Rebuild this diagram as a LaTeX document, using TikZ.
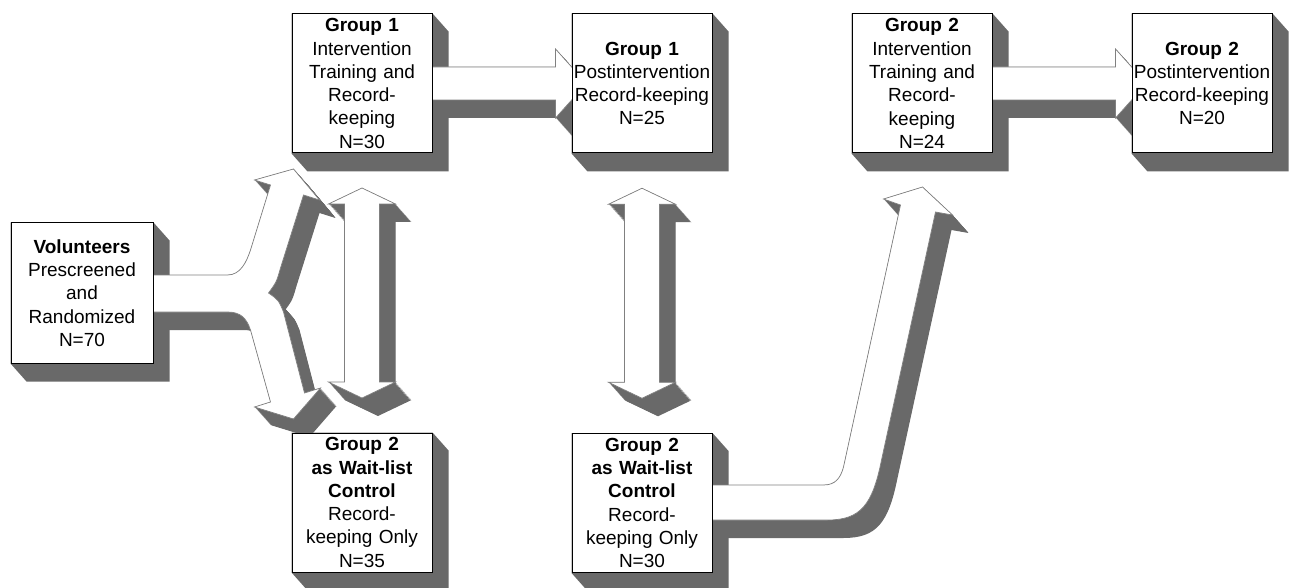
\documentclass[tikz,border=0pt]{standalone}
\usepackage{fontspec}
\setmainfont{Liberation Sans}
\usetikzlibrary{calc}
\definecolor{shadowgray}{RGB}{105,105,105}
\pgfdeclarelayer{bg}
\pgfdeclarelayer{mid}
\pgfsetlayers{bg,mid,main}
\newcommand\solidarrow[1]{%
  \foreach \t in {0,0.5,...,16}{\fill[shd,shift={(\t,1.125*\t)}] #1;}%
  \filldraw[face] #1;}
\newcommand\boxshadow[1]{%
  \fill[shd] (#1.north west) -- (#1.north east) -- ([shift={(16,18)}]#1.north east)
    -- ([shift={(16,18)}]#1.south east) -- ([shift={(16,18)}]#1.south west)
    -- (#1.south west) -- cycle;}
\begin{document}
\begin{tikzpicture}[x=1pt,y=-1pt,
  shd/.style={fill=shadowgray},
  face/.style={fill=white,draw=black!50,line width=0.7pt,line join=miter},
  box/.style={draw=black,fill=white,line width=1pt,minimum width=140pt,
    minimum height=139pt,inner sep=0pt,align=center,text width=140pt,
    font=\fontsize{19}{23.3}\selectfont}]
\useasboundingbox (0,0) rectangle (1304,588);

% boxes
\node[box,minimum width=142pt,minimum height=140pt] (vol) at (82,293)
  {\textbf{Volunteers}\\Prescreened\\and\\Randomized\\N=70};
\node[box] (g1i) at (362,83.5)
  {\textbf{Group 1}\\Intervention\\Training and\\Record-\\keeping\\N=30};
\node[box] (g1p) at (642,83.5)
  {\textbf{Group 1}\\Postintervention\\Record-keeping\\N=25};
\node[box] (g2i) at (922,83.5)
  {\textbf{Group 2}\\Intervention\\Training and\\Record-\\keeping\\N=24};
\node[box] (g2p) at (1202,83.5)
  {\textbf{Group 2}\\Postintervention\\Record-keeping\\N=20};
\node[box] (w1) at (362,502.5)
  {\textbf{Group 2}\\\textbf{as Wait-list}\\\textbf{Control}\\Record-\\keeping Only\\N=35};
\node[box] (w2) at (642,503)
  {\textbf{Group 2}\\\textbf{as Wait-list}\\\textbf{Control}\\Record-\\keeping Only\\N=30};

% box extrusions
\begin{pgfonlayer}{bg}
  \foreach \b in {vol,g1i,g1p,g2i,g2p,w1,w2}{\boxshadow{\b}}
\end{pgfonlayer}

\begin{pgfonlayer}{mid}
% horizontal arrows
\foreach \s in {g1i,g2i}{
  \begin{scope}[shift={(\s.east)}]
    \solidarrow{(-3,-16.5) -- (123,-16.5) -- (123,-34.5) -- (154,0) -- (123,34.5) -- (123,16.5) -- (-3,16.5) -- cycle}
  \end{scope}}
% split arrow from volunteers
\begin{scope}[shift={(vol.east)}]
  \solidarrow{(-3,-18) -- (74,-18) .. controls (87,-18) and (93,-31) .. (97,-43) -- (117,-108) -- (101,-113) -- (140,-124) -- (166,-93) -- (150,-98) -- (127,-25) .. controls (123,-11) .. (115,0) .. controls (125,7) .. (130,19) -- (151,100) -- (167,95) -- (140,126) -- (101,114) -- (117,109) -- (97,37) .. controls (93,25) and (87,19) .. (74,19) -- (-3,19) -- cycle}
\end{scope}
% double arrows
\foreach \a/\b in {g1i/w1,g1p/w2}{
  \begin{scope}[shift={($(\a.south)!0.5!(\b.north)$)}]
    \solidarrow{(0,-105) -- (33.5,-89) -- (17.5,-89) -- (17.5,89) -- (33.5,89) -- (0,105) -- (-33.5,89) -- (-17.5,89) -- (-17.5,-89) -- (-33.5,-89) -- cycle}
  \end{scope}}
% curved arrow from second wait-list box
\begin{scope}[shift={(w2.east)}]
  \solidarrow{(-3,-18) -- (111,-18) .. controls (123,-18) and (128,-25) .. (131,-36) -- (188,-298) -- (171,-304) -- (210,-316) -- (240,-288) -- (223,-291) -- (169,-43) .. controls (160,2) and (148,17) .. (115,17) -- (-3,17) -- cycle}
\end{scope}
\end{pgfonlayer}
\end{tikzpicture}
\end{document}
